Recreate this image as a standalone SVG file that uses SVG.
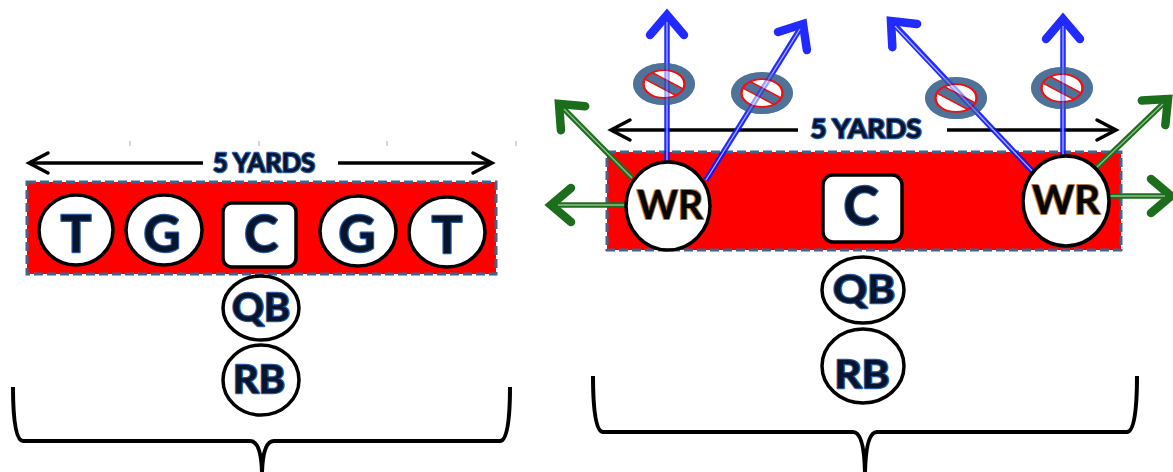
<svg xmlns="http://www.w3.org/2000/svg" width="1173" height="472" viewBox="0 0 1173 472">
<style>
.field{fill:#ff0000;stroke:#41648e;stroke-width:3;stroke-dasharray:9 4}
.pl{fill:#fff;stroke:#000;stroke-width:3.5}
.lbl{font-family:Lato,"Liberation Sans",sans-serif;font-weight:bold;fill:#06142e;stroke:#2a5aa0;stroke-width:2.4;stroke-linejoin:round;paint-order:stroke;text-anchor:middle}
.wr{font-family:Lato,"Liberation Sans",sans-serif;font-weight:bold;fill:#050505;stroke:#b87a3a;stroke-width:2.2;stroke-linejoin:round;paint-order:stroke;text-anchor:middle}
.blk{stroke:#000;stroke-width:3.5;fill:none}
.bl{stroke:#0a14ff;stroke-width:5.5;fill:none}
.blc{stroke:#a8aeff;stroke-width:1.3;fill:none}
.gr{stroke:#1c6e1c;stroke-width:5.5;fill:none}
.grc{stroke:#8fbf8f;stroke-width:1.3;fill:none}
.br{stroke:#000;stroke-width:4;fill:none;stroke-linejoin:round}
.tick{stroke:#c8c8c8;stroke-width:1.5}
</style>
<defs>
<marker id="ab" markerUnits="userSpaceOnUse" viewBox="-30 -25 40 50" markerWidth="40" markerHeight="50" refX="0" refY="0" orient="auto" overflow="visible">
<path d="M-20 -17 L0 0 L-20 17" fill="none" stroke="#0a14ff" stroke-width="8.5" stroke-linecap="round" stroke-linejoin="miter"/>
</marker>
<marker id="ag" markerUnits="userSpaceOnUse" viewBox="-30 -25 40 50" markerWidth="40" markerHeight="50" refX="0" refY="0" orient="auto" overflow="visible">
<path d="M-20 -17 L0 0 L-20 17" fill="none" stroke="#1c6e1c" stroke-width="8.5" stroke-linecap="round" stroke-linejoin="miter"/>
</marker>
<marker id="ak" markerUnits="userSpaceOnUse" viewBox="-30 -25 40 50" markerWidth="40" markerHeight="50" refX="0" refY="0" orient="auto" overflow="visible">
<path d="M-19 -10 L0 0 L-19 10" fill="none" stroke="#000" stroke-width="3.5" stroke-linecap="round"/>
</marker>
<clipPath id="inner"><circle cx="0" cy="0" r="20"/></clipPath>
<g id="no">
<g transform="scale(1,0.68)">
<circle r="31" fill="#4f7299"/>
<circle r="20" fill="#fff"/>
<g clip-path="url(#inner)"><rect x="-24" y="-6" width="48" height="12" fill="#4f7299" stroke="#ee1111" stroke-width="2" transform="rotate(38)"/></g>
<circle r="20.5" fill="none" stroke="#ee1111" stroke-width="2.4"/>
</g>
</g>
</defs>

<g id="ticks">
<line class="tick" x1="130" y1="141" x2="130" y2="146"/>
<line class="tick" x1="259" y1="141" x2="259" y2="146"/>
<line class="tick" x1="387" y1="141" x2="387" y2="146"/>
<line class="tick" x1="516" y1="141" x2="516" y2="146"/>
</g>

<g id="left-field">
<rect class="field" x="27" y="182" width="469" height="92"/>
</g>
<g id="right-field">
<rect class="field" x="607" y="152" width="514" height="98"/>
</g>

<g id="connectors">
<line class="blk" x1="203" y1="163" x2="29" y2="163" marker-end="url(#ak)"/>
<line class="blk" x1="338" y1="163" x2="492" y2="163" marker-end="url(#ak)"/>
<line class="blk" x1="798" y1="130" x2="611" y2="130" marker-end="url(#ak)"/>
<line class="blk" x1="947" y1="130" x2="1116" y2="130" marker-end="url(#ak)"/>
<line class="gr" x1="632" y1="178" x2="559" y2="104" marker-end="url(#ag)"/>
<line class="grc" x1="632" y1="178" x2="564" y2="109"/>
<line class="gr" x1="627" y1="205" x2="551" y2="205" marker-end="url(#ag)"/>
<line class="grc" x1="627" y1="205" x2="558" y2="205"/>
<line class="gr" x1="1096" y1="168" x2="1168" y2="99" marker-end="url(#ag)"/>
<line class="grc" x1="1096" y1="168" x2="1163" y2="104"/>
<line class="gr" x1="1110" y1="196" x2="1171" y2="196" marker-end="url(#ag)"/>
<line class="grc" x1="1110" y1="196" x2="1165" y2="196"/>
<path class="br" d="M13 387 Q13 441 23 441 L250 441 Q261 441 262 472 Q263 441 274 441 L500 441 Q510 441 510 387"/>
<path class="br" d="M593 376 Q593 432 603 432 L853 432 Q864 432 865 472 Q866 432 877 432 L1127 432 Q1137 432 1137 376"/>
</g>

<g id="blocks">
<use href="#no" transform="translate(664,84)"/>
<use href="#no" transform="translate(762,93)"/>
<use href="#no" transform="translate(956,98)"/>
<use href="#no" transform="translate(1062,88)"/>
</g>

<g id="routes">
<line class="bl" x1="667" y1="162" x2="667" y2="15" marker-end="url(#ab)" opacity="0.9"/>
<line class="blc" x1="667" y1="162" x2="667" y2="22"/>
<line class="bl" x1="706" y1="180" x2="803" y2="24" marker-end="url(#ab)" opacity="0.9"/>
<line class="blc" x1="706" y1="180" x2="800" y2="29"/>
<line class="bl" x1="1035" y1="174" x2="891" y2="21" marker-end="url(#ab)" opacity="0.9"/>
<line class="blc" x1="1035" y1="174" x2="895" y2="26"/>
<line class="bl" x1="1063" y1="157" x2="1063" y2="19" marker-end="url(#ab)" opacity="0.9"/>
<line class="blc" x1="1063" y1="157" x2="1063" y2="26"/>
</g>
<g id="blocks-top" opacity="0.55">
<use href="#no" transform="translate(664,84)"/>
<use href="#no" transform="translate(762,93)"/>
<use href="#no" transform="translate(956,98)"/>
<use href="#no" transform="translate(1062,88)"/>
</g>

<g id="yards-left"><text class="lbl" x="264" y="172" font-size="26" textLength="102" lengthAdjust="spacingAndGlyphs">5 YARDS</text></g>
<g id="yards-right"><text class="lbl" x="866" y="138" font-size="27" textLength="111" lengthAdjust="spacingAndGlyphs">5 YARDS</text></g>

<g id="T1"><ellipse class="pl" cx="76" cy="230" rx="37" ry="35"/><text class="lbl" x="76" y="252" font-size="51">T</text></g>
<g id="G1"><ellipse class="pl" cx="164" cy="230" rx="38" ry="35"/><text class="lbl" x="162" y="252" font-size="51">G</text></g>
<g id="C1"><rect class="pl" x="223" y="203" width="73" height="64" rx="9"/><text class="lbl" x="261" y="252" font-size="51">C</text></g>
<g id="G2"><ellipse class="pl" cx="358" cy="231" rx="38" ry="35"/><text class="lbl" x="357" y="252" font-size="51">G</text></g>
<g id="T2"><ellipse class="pl" cx="447" cy="232" rx="38" ry="35"/><text class="lbl" x="447" y="253" font-size="51">T</text></g>
<g id="QB1"><ellipse class="pl" cx="261" cy="308" rx="38" ry="32"/><text class="lbl" x="261" y="321" font-size="38" textLength="58" lengthAdjust="spacingAndGlyphs">QB</text></g>
<g id="RB1"><ellipse class="pl" cx="261" cy="380" rx="38" ry="35"/><text class="lbl" x="259" y="393" font-size="38" textLength="52" lengthAdjust="spacingAndGlyphs">RB</text></g>

<g id="WR1"><ellipse class="pl" cx="668" cy="206" rx="42" ry="44"/><text class="wr" x="670" y="219" font-size="40" textLength="66" lengthAdjust="spacingAndGlyphs">WR</text></g>
<g id="C2"><rect class="pl" x="823" y="175" width="79" height="67" rx="10"/><text class="lbl" x="861" y="225" font-size="53">C</text></g>
<g id="WR2"><ellipse class="pl" cx="1066" cy="201" rx="43" ry="45"/><text class="wr" x="1066" y="214" font-size="40" textLength="68" lengthAdjust="spacingAndGlyphs">WR</text></g>
<g id="QB2"><ellipse class="pl" cx="863" cy="290" rx="41" ry="33"/><text class="lbl" x="864" y="303" font-size="39" textLength="62" lengthAdjust="spacingAndGlyphs">QB</text></g>
<g id="RB2"><ellipse class="pl" cx="863" cy="366" rx="41" ry="37"/><text class="lbl" x="862" y="388" font-size="39" textLength="55" lengthAdjust="spacingAndGlyphs">RB</text></g>
</svg>
